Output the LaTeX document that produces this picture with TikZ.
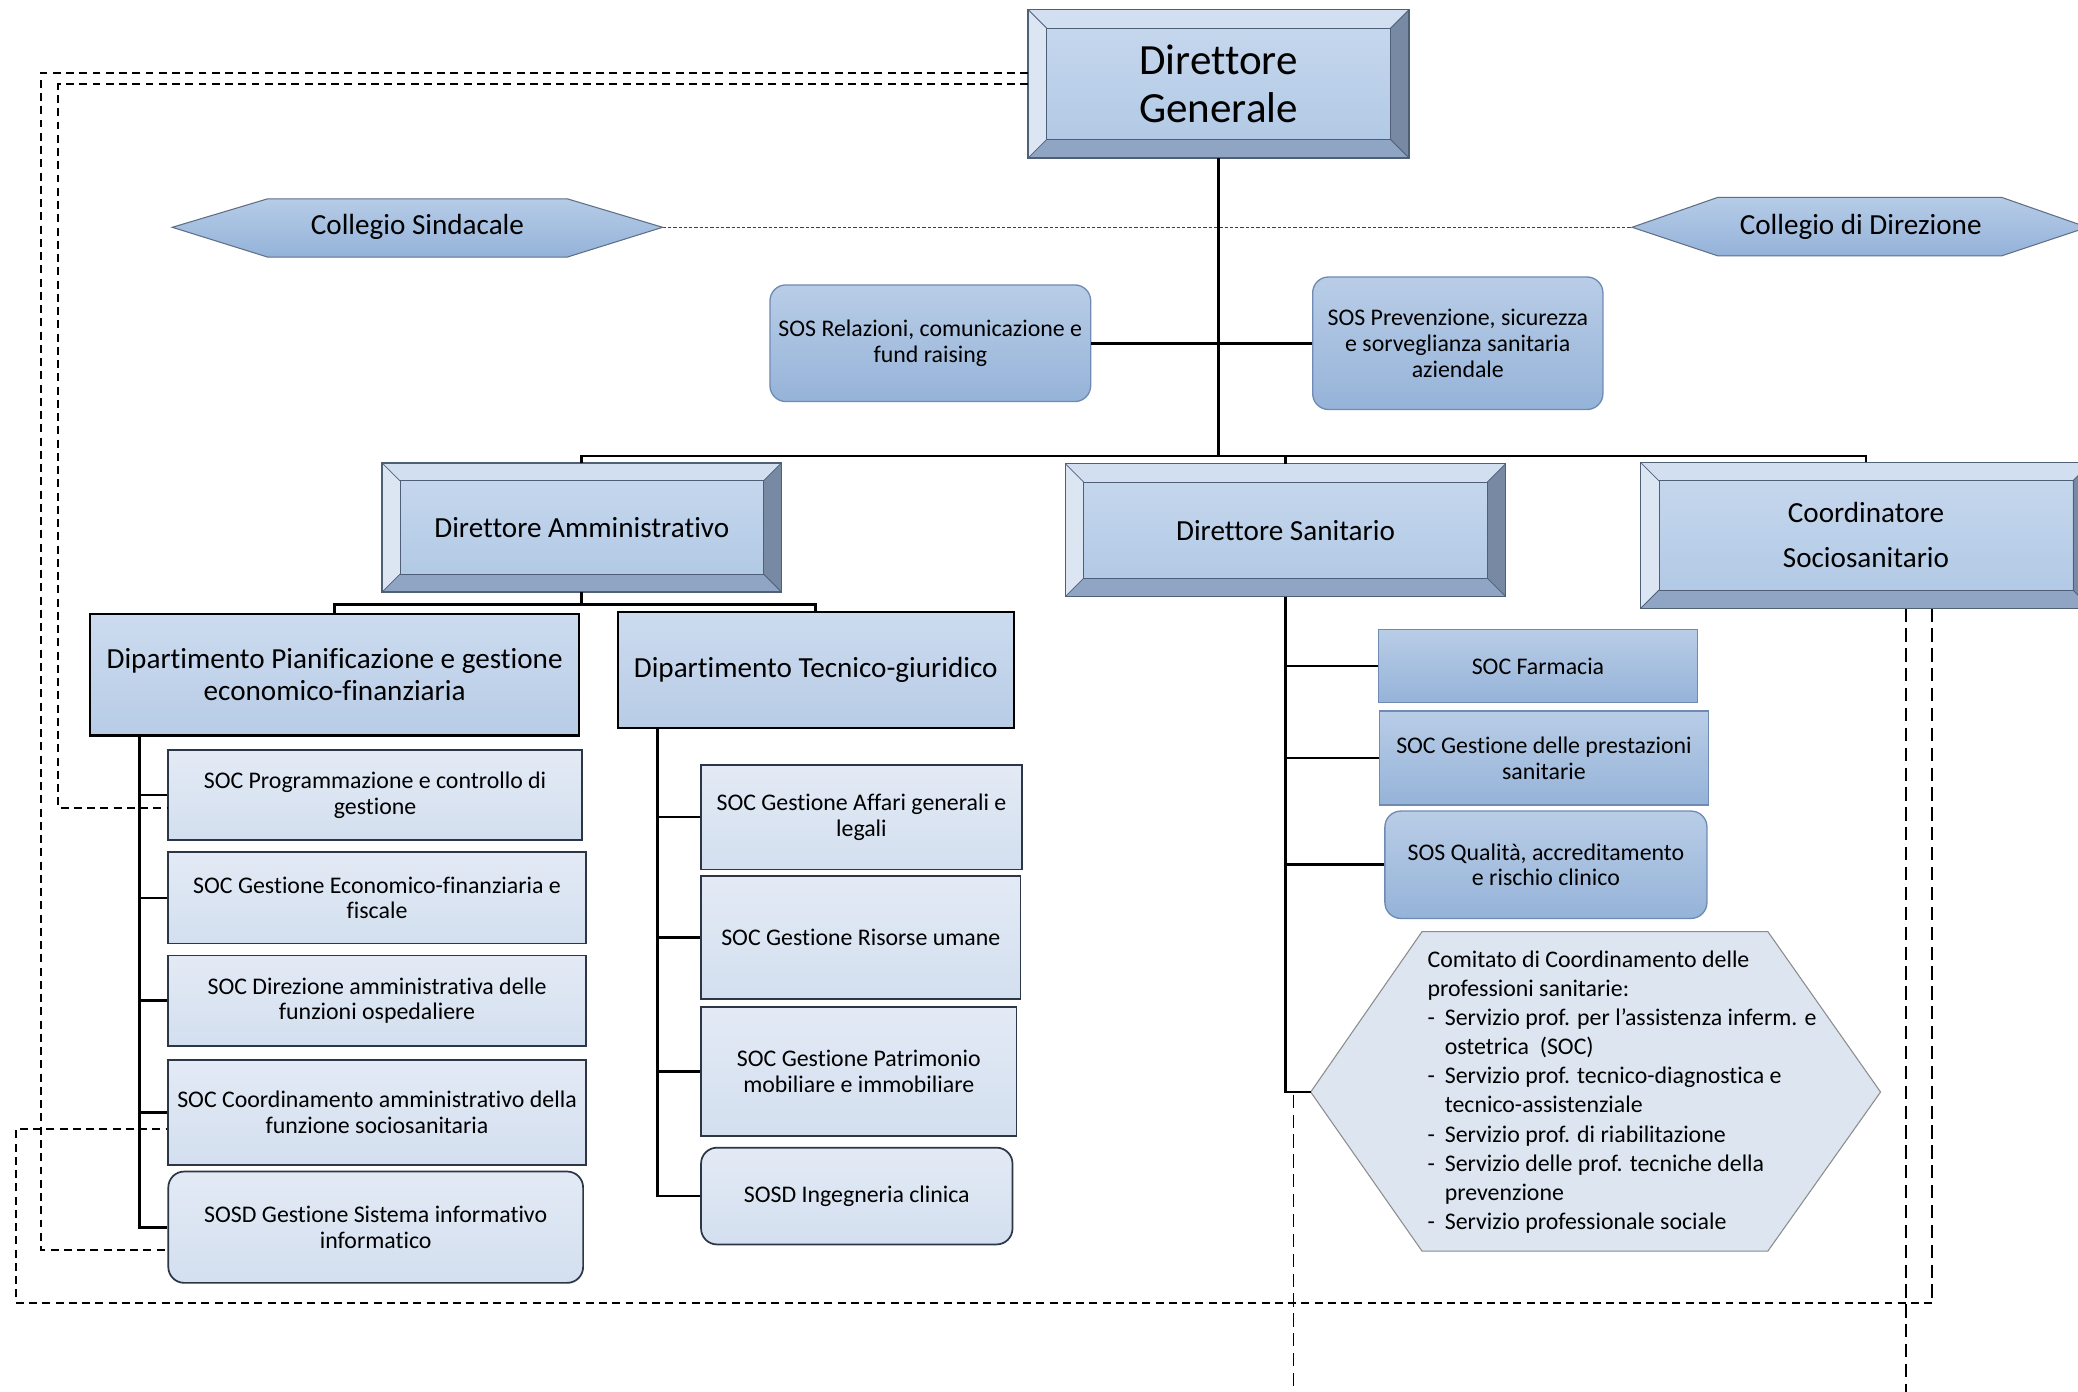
\documentclass[tikz,border=0pt]{standalone}
\usepackage{fontspec}
\setmainfont[Ligatures=NoCommon]{Carlito}
\usetikzlibrary{calc}
\definecolor{faceT}{HTML}{C8D9EE}
\definecolor{faceB}{HTML}{AFC7E4}
\definecolor{bevTop}{HTML}{D2DFF0}
\definecolor{bevLeft}{HTML}{DCE6F3}
\definecolor{bevRight}{HTML}{7789A3}
\definecolor{bevBot}{HTML}{8FA5C3}
\definecolor{bevLine}{HTML}{4F5F78}
\definecolor{midT}{HTML}{B9CDE7}
\definecolor{midB}{HTML}{95B3D8}
\definecolor{midLine}{HTML}{6F8BB3}
\definecolor{lightT}{HTML}{E3EAF5}
\definecolor{lightB}{HTML}{D3DFEF}
\definecolor{darkLine}{HTML}{2B3646}
\definecolor{depT}{HTML}{CCDBEF}
\definecolor{depB}{HTML}{B8CCE6}
\definecolor{hexFill}{HTML}{DCE5F0}
\definecolor{hexT}{HTML}{B6CCE7}
\definecolor{hexB}{HTML}{94B2D9}
\definecolor{hexLine}{HTML}{5F6F85}
\newcommand\bevelit[2]{%
 \fill[bevTop] (#1.north west) -- (#1.north east) -- ([shift={(-#2pt,-#2pt)}]#1.north east) -- ([shift={(#2pt,-#2pt)}]#1.north west) -- cycle;
 \fill[bevBot] (#1.south west) -- (#1.south east) -- ([shift={(-#2pt,#2pt)}]#1.south east) -- ([shift={(#2pt,#2pt)}]#1.south west) -- cycle;
 \fill[bevLeft] (#1.north west) -- (#1.south west) -- ([shift={(#2pt,#2pt)}]#1.south west) -- ([shift={(#2pt,-#2pt)}]#1.north west) -- cycle;
 \fill[bevRight] (#1.north east) -- (#1.south east) -- ([shift={(-#2pt,#2pt)}]#1.south east) -- ([shift={(-#2pt,-#2pt)}]#1.north east) -- cycle;
 \draw[bevLine, line width=0.6pt] ([shift={(#2pt,-#2pt)}]#1.north west) rectangle ([shift={(-#2pt,#2pt)}]#1.south east);
 \draw[bevLine, line width=0.6pt] (#1.north west) -- ([shift={(#2pt,-#2pt)}]#1.north west) (#1.north east) -- ([shift={(-#2pt,-#2pt)}]#1.north east) (#1.south west) -- ([shift={(#2pt,#2pt)}]#1.south west) (#1.south east) -- ([shift={(-#2pt,#2pt)}]#1.south east);
 \draw[bevLine, line width=1pt] (#1.north west) rectangle (#1.south east);
}
\tikzset{
 lbl/.style={font=\fontsize{18}{19.5}\selectfont, align=center, inner sep=0pt},
 bevelbox/.style={rectangle, inner sep=0pt, top color=faceT, bottom color=faceB, font=\fontsize{22}{25}\selectfont, align=center},
 depbox/.style={rectangle, inner sep=0pt, draw=black, line width=1.6pt, top color=depT, bottom color=depB, font=\fontsize{22}{24}\selectfont, align=center},
 lightbox/.style={rectangle, draw=darkLine, line width=1.3pt, top color=lightT, bottom color=lightB, lbl},
 lightround/.style={lightbox, rounded corners=12pt},
 midbox/.style={rectangle, draw=midLine, line width=1pt, top color=midT, bottom color=midB, lbl},
 midround/.style={midbox, rounded corners=12pt},
 hexlbl/.style={inner sep=0pt, font=\fontsize{22}{25}\selectfont},
 conn/.style={line width=2pt, black},
 dsh/.style={line width=1.4pt, black, dash pattern=on 6pt off 4pt},
 dshlong/.style={line width=1.4pt, black, dash pattern=on 10pt off 5pt},
 dotl/.style={line width=1pt, black!75, dash pattern=on 2.5pt off 1.5pt},
}
\begin{document}
\begin{tikzpicture}[x=1pt,y=-1pt]
\useasboundingbox (0,0) rectangle (1568,1050);
\fill[white] (0,0) rectangle (1568,1050);

% Collegi
\coordinate (sindR) at (500,171.5);
\coordinate (dirL) at (1231.5,171.5);
\draw[dotl] (sindR) -- (dirL);
\shade[top color=hexT, bottom color=hexB, draw=hexLine, line width=0.8pt] (130,171.5) -- (202,150) -- (428,150) -- (sindR) -- (428,194) -- (202,194) -- cycle;
\node[hexlbl] (sind) at (315,171.5) {Collegio Sindacale};
\shade[top color=hexT, bottom color=hexB, draw=hexLine, line width=0.8pt] (dirL) -- (1296,149) -- (1510.6,149) -- (1575,171.5) -- (1510.6,193) -- (1296,193) -- cycle;
\node[hexlbl] (dir) at (1404,171.5) {Collegio di Direzione};

% top level nodes
\node[bevelbox, minimum width=287pt, minimum height=111.5pt, font=\fontsize{32.5}{36.5}\selectfont] (dg) at (919.5,63.25) {Direttore\\Generale};
\node[bevelbox, minimum width=301pt, minimum height=97pt] (da) at (439,398) {Direttore Amministrativo};
\node[bevelbox, minimum width=332pt, minimum height=100pt] (ds) at (970,400) {Direttore Sanitario};
\node[bevelbox, minimum width=340pt, minimum height=110pt, font=\fontsize{22}{34}\selectfont] (cs) at (1408,404) {Coordinatore\\Sociosanitario};

\node[midround, minimum width=242pt, minimum height=88pt] (sosR) at (702,259) {SOS Relazioni, comunicazione e\\fund raising};
\node[midround, minimum width=219pt, minimum height=100pt] (sosP) at (1100,259) {SOS Prevenzione, sicurezza\\e sorveglianza sanitaria\\aziendale};

% departments
\node[depbox, minimum width=369pt, minimum height=92pt] (dp) at (252.5,509) {Dipartimento Pianificazione e gestione\\economico-finanziaria};
\node[depbox, minimum width=299pt, minimum height=87pt] (dt) at (615.5,505.5) {Dipartimento Tecnico-giuridico};

% left children
\node[lightbox, minimum width=312pt, minimum height=68pt] (p1) at (283,600) {SOC Programmazione e controllo di\\gestione};
\node[lightbox, minimum width=315pt, minimum height=69pt] (p2) at (284.5,677.5) {SOC Gestione Economico-finanziaria e\\fiscale};
\node[lightbox, minimum width=315pt, minimum height=68pt] (p3) at (284.5,755) {SOC Direzione amministrativa delle\\funzioni ospedaliere};
\node[lightbox, minimum width=315pt, minimum height=79pt] (p4) at (284.5,839.5) {SOC Coordinamento amministrativo della\\funzione sociosanitaria};
\node[lightround, minimum width=313pt, minimum height=84pt] (p5) at (283.5,926) {SOSD Gestione Sistema informativo\\informatico};

% middle children
\node[lightbox, minimum width=242pt, minimum height=79pt] (t1) at (650,616.5) {SOC Gestione Affari generali e\\legali};
\node[lightbox, minimum width=241pt, minimum height=93pt] (t2) at (649.5,707.5) {SOC Gestione Risorse umane};
\node[lightbox, minimum width=238pt, minimum height=97pt] (t3) at (648,808.5) {SOC Gestione Patrimonio\\mobiliare e immobiliare};
\node[lightround, minimum width=235pt, minimum height=73pt] (t4) at (646.5,902.5) {SOSD Ingegneria clinica};

% right children
\node[midbox, minimum width=241pt, minimum height=55pt] (r1) at (1160.5,502.5) {SOC Farmacia};
\node[midbox, minimum width=248pt, minimum height=71pt] (r2) at (1165,572) {SOC Gestione delle prestazioni\\sanitarie};
\node[midround, minimum width=243pt, minimum height=81pt] (r3) at (1166.5,652.5) {SOS Qualità, accreditamento\\e rischio clinico};

% comitato hexagon
\coordinate (comL) at (989,824);
\filldraw[fill=hexFill, draw=black!45, line width=0.8pt] (comL) -- (1073,703) -- (1334,703) -- (1419,824) -- (1334,944) -- (1073,944) -- cycle;
\node[inner sep=0pt, anchor=west, align=left, font=\fontsize{18}{22}\selectfont] (comitato) at (1077,824) {Comitato di Coordinamento delle\\
professioni sanitarie:\\
\makebox[13pt][l]{-}Servizio prof. per l’assistenza inferm. e\\
\hspace*{13pt}ostetrica\ \ (SOC)\\
\makebox[13pt][l]{-}Servizio prof. tecnico-diagnostica e\\
\hspace*{13pt}tecnico-assistenziale\\
\makebox[13pt][l]{-}Servizio prof. di riabilitazione\\
\makebox[13pt][l]{-}Servizio delle prof. tecniche della\\
\hspace*{13pt}prevenzione\\
\makebox[13pt][l]{-}Servizio professionale sociale};

% bevels
\bevelit{dg}{14}
\bevelit{da}{13.5}
\bevelit{ds}{14}
\bevelit{cs}{14}

% solid connectors
\draw[conn] (dg.south) -- (dg.south |- 0,344);
\draw[conn] (da.north) |- (cs.north |- 0,344) -- (cs.north);
\draw[conn] (ds.north) -- (ds.north |- 0,344);
\draw[conn] (sosR.east) -- (sosP.west);
\draw[conn] (da.south) -- (da.south |- 0,456);
\draw[conn] (dp.north) |- (dt.north |- 0,456) -- (dt.north);
\coordinate (dpT) at ($(dp.south west)+(38pt,0pt)$);
\draw[conn] (dpT) |- (p5.west);
\foreach \n in {p1,p2,p3,p4} \draw[conn] (\n.west) -- (\n.west -| dpT);
\coordinate (dtT) at ($(dt.south west)+(31pt,0pt)$);
\draw[conn] (dtT) |- (t4.west);
\foreach \n in {t1,t2,t3} \draw[conn] (\n.west) -- (\n.west -| dtT);
\draw[conn] (ds.south) |- (comL);
\foreach \n in {r1,r2,r3} \draw[conn] (\n.west) -- (\n.west -| ds.south);

% dashed connectors
\draw[dsh] (dg.west |- 0,55) -- (31,55) -- (31,943) -- (p5.west |- 0,943);
\draw[dsh] (dg.west |- 0,63.5) -- (44,63.5) -- (44,610) -- (p1.west |- 0,610);
\draw[dshlong] (cs.south -| 1458,0) -- (1458,983);
\draw[dsh] (1458,983) -- (12,983) -- (12,852) -- (p4.west |- 0,852);
\coordinate (endA) at (1438,1055);
\draw[dshlong] (cs.south -| 1438,0) -- (endA);
\coordinate (startB) at (976,826);
\coordinate (endB) at (976,1055);
\draw[dshlong] (startB) -- (endB);
\end{tikzpicture}
\end{document}
